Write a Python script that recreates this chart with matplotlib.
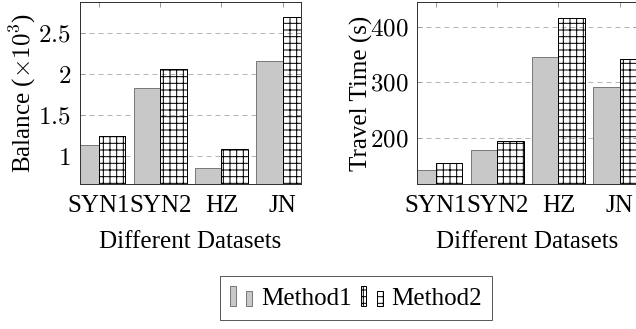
import numpy as np
import matplotlib
matplotlib.use('Agg')
import matplotlib.pyplot as plt
from matplotlib.patches import Rectangle
from matplotlib.legend_handler import HandlerBase

# data
datasets = ['SYN1', 'SYN2', 'HZ', 'JN']
balance_m1 = [1.13, 1.83, 0.85, 2.16]   # x10^3
balance_m2 = [1.24, 2.06, 1.09, 2.70]
time_m1 = [142, 178, 345, 291]          # seconds
time_m2 = [155, 195, 416, 343]
balance_ticks = [1, 1.5, 2, 2.5]
balance_ticklabels = ['$1$', '$1.5$', '$2$', '$2.5$']
time_ticks = [200, 300, 400]
time_ticklabels = ['$200$', '$300$', '$400$']

plt.rcParams['font.family'] = ['Liberation Serif', 'DejaVu Serif']
plt.rcParams['mathtext.fontset'] = 'cm'
plt.rcParams['hatch.linewidth'] = 0.9

DPI = 80
fig = plt.figure(figsize=(636 / DPI, 329 / DPI), dpi=DPI)
fig.patch.set_facecolor('white')

FS = 22.5
w = 0.43
x = np.arange(len(datasets))


def style_axes(ax, m1, m2, ylim, ticks, ticklabels, ylabel):
    ax.set_axisbelow(True)
    b1 = ax.bar(x - w / 2, m1, w, color='#c8c8c8', edgecolor='#7a7a7a', linewidth=0.9)
    b2 = ax.bar(x + w / 2, m2, w, facecolor='none', edgecolor='black', hatch='++',
                linewidth=0.9)
    ax.set_xlim(-0.31, 3.3)
    ax.set_ylim(*ylim)
    ax.set_yticks(ticks)
    ax.set_yticklabels(ticklabels, fontsize=FS)
    ax.set_xticks(x)
    ax.set_xticklabels(datasets, fontsize=FS)
    ax.tick_params(direction='in', length=4.5, width=0.9, color='#999999',
                   top=True, right=True)
    ax.tick_params(axis='y', pad=8)
    ax.tick_params(axis='x', pad=9.5)
    ax.yaxis.grid(True, color='#b5b5b5', linestyle=(0, (5, 4)), linewidth=0.9)
    for s in ax.spines.values():
        s.set_color('#333333')
        s.set_linewidth(0.9)
    ax.set_xlabel('Different Datasets', fontsize=FS, labelpad=13)
    ax.set_ylabel(ylabel, fontsize=FS)
    return b1, b2


ax1 = fig.add_axes([80 / 636, 145 / 329, 221 / 636, 182 / 329])
b1, b2 = style_axes(ax1, balance_m1, balance_m2, (0.66, 2.88), balance_ticks,
                    balance_ticklabels, r'Balance ($\times10^3$)')
ax1.yaxis.set_label_coords(-0.192, 0.5)

ax2 = fig.add_axes([417 / 636, 145 / 329, 221 / 636, 182 / 329])
style_axes(ax2, time_m1, time_m2, (117, 445), time_ticks, time_ticklabels,
           'Travel Time (s)')
ax2.yaxis.set_label_coords(-0.2, 0.5)


class TwoBars(HandlerBase):
    def create_artists(self, legend, orig_handle, xdescent, ydescent, width, height,
                       fontsize, trans):
        bw = width * 0.27
        kw = dict(facecolor=orig_handle.get_facecolor(),
                  edgecolor=orig_handle.get_edgecolor(),
                  hatch=orig_handle.get_hatch(), linewidth=0.9, transform=trans)
        r1 = Rectangle((-xdescent, -ydescent), bw, height, **kw)
        r2 = Rectangle((-xdescent + width - bw, -ydescent), bw, height * 0.75, **kw)
        return [r1, r2]


leg = fig.legend([b1.patches[0], b2.patches[0]], ['Method1', 'Method2'],
                 handler_map={Rectangle: TwoBars()}, ncol=2, loc='center',
                 bbox_to_anchor=(356 / 636, 31 / 329), fontsize=FS, fancybox=False,
                 handlelength=0.88, handleheight=0.8, handletextpad=0.36,
                 columnspacing=0.36, borderpad=0.4, borderaxespad=0)
leg.get_frame().set_edgecolor('#333333')
leg.get_frame().set_linewidth(0.9)

fig.savefig('out.png', dpi=DPI)
